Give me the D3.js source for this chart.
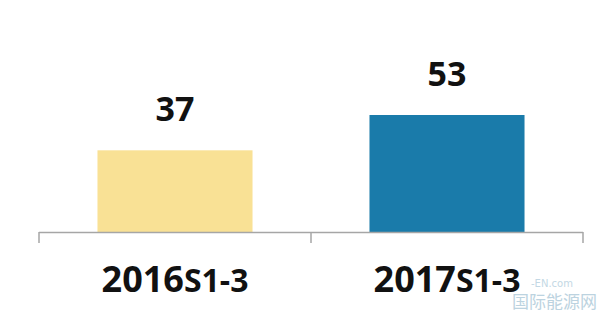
<!DOCTYPE html>
<html>
<head>
<meta charset="utf-8">
<script src="https://cdn.jsdelivr.net/npm/d3@7"></script>
<style>
  html, body { margin: 0; padding: 0; background: #fff; }
  svg { display: block; }
</style>
</head>
<body>
<svg width="600" height="314"></svg>
<script>
var years = ["2016", "2017"];
var periods = ["S1-3", "S1-3"];
var values = [37, 53];
var colors = ["#f9e195", "#1a7baa"];

var chart = (function(self){
  self.init = function(){
    var svg = d3.select("svg"),
        base = 232;

    var x = d3.scaleBand()
        .domain(years)
        .range([39, 583])
        .paddingInner(0.43)
        .paddingOuter(0.215);

    var y = d3.scaleLinear()
        .domain([0, 100])
        .range([base, base - 100 * 117 / 53]);

    // bars
    svg.selectAll(".bar")
        .data(values)
      .enter().append("rect")
        .attr("class", "bar")
        .attr("x", function(d, i) { return x(years[i]); })
        .attr("y", function(d) { return y(d); })
        .attr("width", x.bandwidth())
        .attr("height", function(d) { return y(0) - y(d); })
        .attr("fill", function(d, i) { return colors[i]; });

    // axis line with ticks on the band edges
    var edges = [x.range()[0]].concat(years.map(function(c) { return x(c) + x.bandwidth() + x.step() * x.paddingInner() / 2; }));
    svg.append("line")
        .attr("x1", edges[0]).attr("x2", edges[edges.length - 1])
        .attr("y1", base + 0.5).attr("y2", base + 0.5)
        .attr("stroke", "#a6a6a6").attr("stroke-width", 1.5);
    svg.selectAll(".tick")
        .data(edges)
      .enter().append("line")
        .attr("class", "tick")
        .attr("x1", function(d) { return d; }).attr("x2", function(d) { return d; })
        .attr("y1", base).attr("y2", base + 11)
        .attr("stroke", "#a6a6a6").attr("stroke-width", 1.5);

    // value labels
    svg.selectAll(".val")
        .data(values)
      .enter().append("text")
        .attr("class", "val")
        .attr("x", function(d, i) { return x(years[i]) + x.bandwidth() / 2; })
        .attr("y", function(d) { return y(d) - 29; })
        .attr("text-anchor", "middle")
        .style("font-family", "'Open Sans', sans-serif")
        .style("font-weight", "bold")
        .style("font-size", "34px")
        .attr("fill", "#111")
        .text(function(d) { return d; });

    // category labels
    var cat = svg.selectAll(".cat")
        .data(years)
      .enter().append("text")
        .attr("class", "cat")
        .attr("x", function(d) { return x(d) + x.bandwidth() / 2; })
        .attr("y", 292)
        .attr("text-anchor", "middle")
        .style("font-family", "'Open Sans', sans-serif")
        .style("font-weight", "bold")
        .attr("fill", "#111");
    cat.append("tspan").style("font-size", "36px").text(function(d) { return d; });
    cat.append("tspan").style("font-size", "32px").text(function(d, i) { return periods[i]; });

    // watermark
    svg.append("text")
        .attr("x", 531).attr("y", 287)
        .style("font-family", "'DejaVu Sans', sans-serif")
        .style("font-size", "10px")
        .attr("fill", "#c3d8e4")
        .text("-EN.com");
    svg.append("text")
        .attr("x", 512).attr("y", 308)
        .style("font-family", "'Noto Sans CJK SC', sans-serif")
        .style("font-size", "17px")
        .attr("fill", "#bcd3e0")
        .text("国际能源网");
  };
  return self;
})({});

chart.init();
</script>
</body>
</html>
